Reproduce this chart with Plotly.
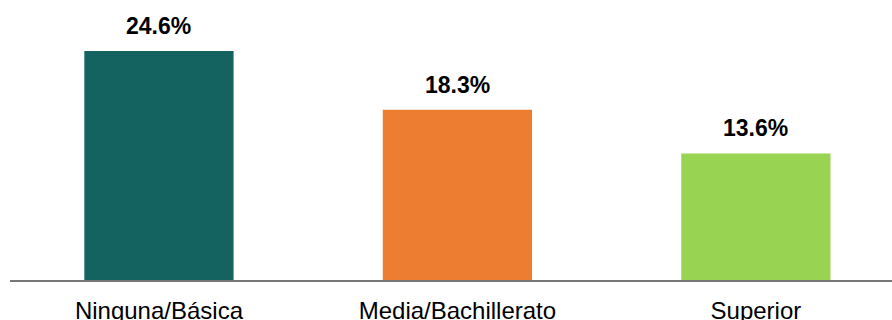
import plotly.graph_objects as go

categories = ["Ninguna/Básica", "Media/Bachillerato", "Superior"]
values = [24.6, 18.3, 13.6]
value_labels = ["24.6%", "18.3%", "13.6%"]
colors = ["#156361", "#ED7D31", "#98D352"]

FONT = "Liberation Sans, Arial, sans-serif"

fig = go.Figure()
fig.add_trace(go.Bar(
    x=categories, y=values, marker=dict(color=colors, line=dict(width=0)),
    width=0.5, hoverinfo="skip",
))

for c, v, t in zip(categories, values, value_labels):
    fig.add_annotation(
        x=c, y=v, text=f"<b>{t}</b>", showarrow=False,
        yanchor="bottom", yshift=10,
        font=dict(family=FONT, size=23, color="#000000"),
    )

fig.update_layout(
    width=892, height=320,
    margin=dict(l=10, r=0, t=0, b=40),
    paper_bgcolor="white", plot_bgcolor="white",
    showlegend=False,
    font=dict(family=FONT, color="#000000"),
    xaxis=dict(
        type="category", range=[-0.499, 2.456],
        showline=True, linecolor="#777777", linewidth=2,
        showgrid=False, ticks="", tickfont=dict(size=24, color="#000000"),
        ticklabelstandoff=8, automargin=False,
    ),
    yaxis=dict(range=[0, 24.6 * 280 / 229], visible=False, showgrid=False, zeroline=False),
)

fig.write_html("out.html")
